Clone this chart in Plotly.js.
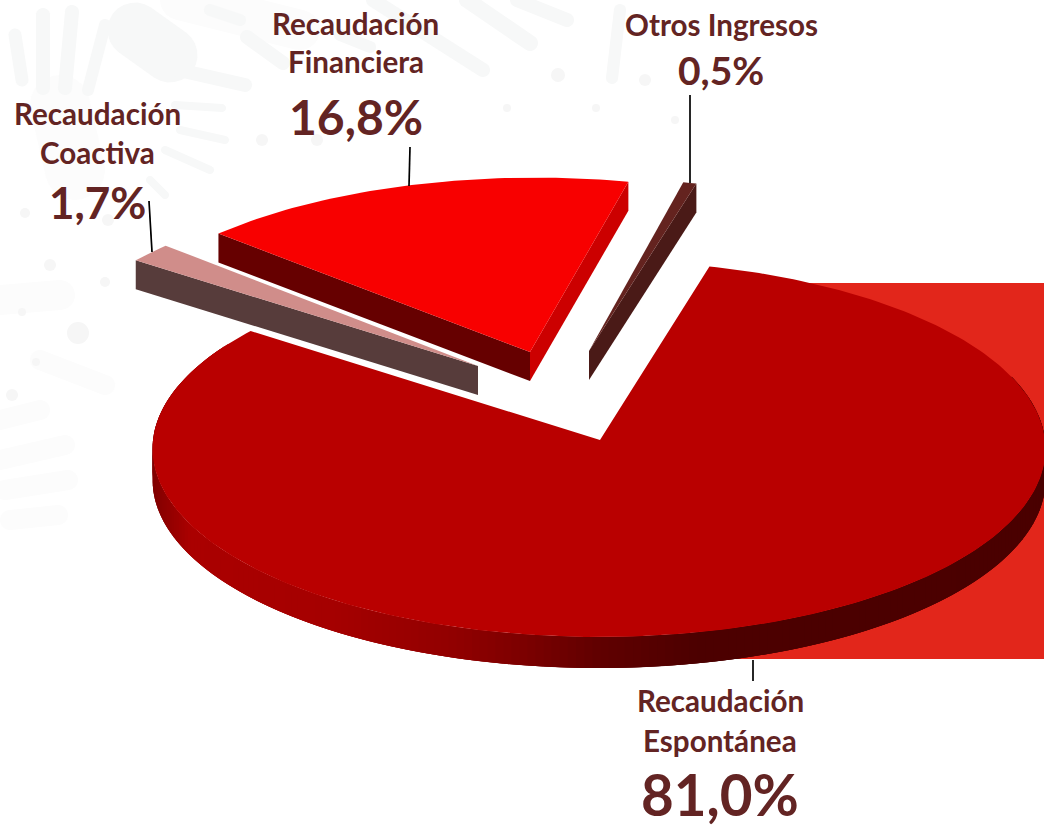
<!DOCTYPE html>
<html><head><meta charset="utf-8">
<script src="https://cdn.plot.ly/plotly-3.0.1.min.js"></script>
<style>html,body{margin:0;padding:0;background:#fff}#chart{width:1044px;height:828px}</style>
</head><body><div id="chart"></div>
<script>
// ---- data ----
const categories = ["Recaudación Espontánea", "Recaudación Coactiva", "Recaudación Financiera", "Otros Ingresos"];
const shares = [81.0, 1.7, 16.8, 0.5];
const labelLines = [["Recaudación", "Espontánea"], ["Recaudación", "Coactiva"], ["Recaudación", "Financiera"], ["Otros Ingresos"]];

// ---- style / placement ----
const FONT = "Lato, 'Open Sans', sans-serif";
const TXT = "#632423";
const startAngle = 14.5;
const proj = {A: 446, B: 187.8, k: 0.0466};
const depth = 29;
const place = [
  {apex:[600,440], origin:[599,440], sx:1, sy:1, rot:0.5, top:"#B90000"},
  {apex:[478,366], origin:[479.5,368], sx:.98, sy:1, rot:0, top:"#D08D8A", wall:"#573C3B", side:"start"},
  {apex:[530,352], origin:[535.5,353.5], sx:.99, sy:.98, rot:0, top:"#F80000", wall:"#660000", side:"start", wall2:"#CC0000"},
  {apex:[589,351], origin:[589.5,357.5], sx:1, sy:1, rot:0, top:"#64231F", wall:"#4A1A17", side:"end"}
];
const labelStyle = [
  {lines:[[720,700],[720,740]], pct:[720,794], pctSize:56.5},
  {lines:[[97,113],[97,152]], pct:[97,202], pctSize:44},
  {lines:[[355.5,23],[355.5,61]], pct:[356,116], pctSize:48},
  {lines:[[721,24]], pct:[721,70], pctSize:39}
];
const labelSize = 29.6;
const leaders = [[[753,660],[753,681]], [[149,201],[152,252]], [[410,147],[409,186]], [[690,95],[690,183]]];
const rimStops = [[152,[128,0,0]],[190,[170,0,0]],[330,[165,0,0]],[450,[146,0,0]],[530,[122,0,0]],[600,[96,0,0]],[700,[76,0,0]],[1044,[74,0,0]]];
const rimDepth = 31;

// circle-plane angle (deg clockwise from the back) -> picture position, with perspective
function pt(theta, o, sx, sy) {
  const t = theta * Math.PI / 180, u = Math.sin(t), v = -Math.cos(t), d = 1 - proj.k * v;
  return [o[0] + sx * proj.A * u / d, o[1] + sy * proj.B * v / d];
}
function arc(a0, a1, o, sx, sy) {
  const n = Math.max(2, Math.ceil(Math.abs(a1 - a0) / 1)), out = [];
  for (let i = 0; i <= n; i++) out.push(pt(a0 + (a1 - a0) * i / n, o, sx, sy));
  return out;
}
function poly(points, color) {
  const xs = points.map(p => p[0]).concat(points[0][0]);
  const ys = points.map(p => p[1]).concat(points[0][1]);
  return {type:"scatter", mode:"lines", x:xs, y:ys, fill:"toself", fillcolor:color,
          line:{width:0, color:color}, hoverinfo:"skip", showlegend:false};
}
function rimColor(x) {
  for (let i = 1; i < rimStops.length; i++) {
    if (x <= rimStops[i][0]) {
      const [x0,c0] = rimStops[i-1], [x1,c1] = rimStops[i], f = Math.max(0,(x-x0)/(x1-x0));
      return "rgb(" + c0.map((c,j)=>Math.round(c+(c1[j]-c)*f)).join(",") + ")";
    }
  }
  return "rgb(74,0,0)";
}

const total = shares.reduce((a,b)=>a+b,0);
let cursor = startAngle;
const spans = shares.map(s => { const a0 = cursor; cursor += s / total * 360; return [a0, cursor]; });

const traces = [];
// main slice rim, front side only; each band overlaps the next so no seams show
{
  const p = place[0], a0 = spans[0][0] + p.rot, a1 = spans[0][1] + p.rot;
  const pts = arc(a1 - 5, a0 + 55, p.origin, p.sx, p.sy);   // runs left to right along the front
  for (let i = 0; i < pts.length - 1; i++) {
    const a = pts[i], b = pts[Math.min(i + 3, pts.length - 1)], m = pts[i + 1];
    const seg = [a, m, b];
    const low = seg.slice().reverse().map(q => [q[0], q[1] + rimDepth]);
    traces.push(poly(seg.concat(low), rimColor((a[0] + m[0]) / 2)));
  }
  traces.push(poly([p.apex].concat(arc(a0, a1, p.origin, p.sx, p.sy)), p.top));
}
// exploded slices
[3, 2, 1].forEach(i => {
  const p = place[i], a0 = spans[i][0] + p.rot, a1 = spans[i][1] + p.rot, e = arc(a0, a1, p.origin, p.sx, p.sy);
  const first = e[0], last = e[e.length-1], ap = p.apex;
  const down = q => [q[0], q[1] + depth];
  if (p.side === "start") traces.push(poly([first, ap, down(ap), down(first)], p.wall));
  if (p.side === "end") traces.push(poly([last, ap, down(ap), down(last)], p.wall));
  if (p.wall2) traces.push(poly([last, ap, down(ap), down(last)], p.wall2));
  traces.push(poly([ap].concat(e), p.top));
});

// ---- annotations ----
const ann = [];
const note = (text, xy, size) => ann.push({text, x:xy[0], y:xy[1], xref:"x", yref:"y", showarrow:false,
   xanchor:"center", yanchor:"middle", font:{family:FONT, size, color:TXT}});
categories.forEach((c, i) => {
  labelLines[i].forEach((ln, j) => note("<b>"+ln+"</b>", labelStyle[i].lines[j], labelSize));
  note("<b>"+shares[i].toFixed(1).replace(".", ",")+"%</b>", labelStyle[i].pct, labelStyle[i].pctSize);
});

// ---- shapes: backdrop rectangle, faint watermark, leader lines ----
const capsule = (x1,y1,x2,y2,w) => {
  const a = Math.atan2(y2-y1,x2-x1), r = w/2, out = [];
  for (let i = 0; i <= 12; i++) { const t = a + Math.PI/2 - Math.PI*i/12; out.push([x2+r*Math.cos(t), y2+r*Math.sin(t)]); }
  for (let i = 0; i <= 12; i++) { const t = a - Math.PI/2 - Math.PI*i/12; out.push([x1+r*Math.cos(t), y1+r*Math.sin(t)]); }
  return "M" + out.map(p => p[0].toFixed(1)+","+p[1].toFixed(1)).join(" L") + " Z";
};
const wmStrong = [[15,35,22,80,13],[43,15,43,88,14],[72,12,65,88,14],[105,25,88,90,12],
  [135,30,170,55,55],[170,68,245,85,14],[175,105,222,108,8],[180,130,225,140,8],[165,150,210,170,8],[150,180,165,195,8],
  [247,37,283,63,14],[210,10,240,20,12],[340,35,370,47,12],[373,0,483,70,14],[467,0,530,43,16],[517,0,567,20,14],[620,10,612,78,12]];
const wmPale = [[60,105,75,170,60],[0,300,60,295,30],[40,360,105,385,20],[0,420,40,410,20],[0,460,65,445,20],[5,490,68,480,20],[10,520,58,515,20],[180,0,300,30,40]];
const dots = [[50,265,6],[105,282,5],[262,140,6],[317,140,6],[108,220,6],[25,213,5],[78,333,11],[22,312,4],[36,362,4],[12,395,6],[558,75,7],[507,108,4],[596,108,4],[645,80,6],[675,120,4]];
const shapes = [{type:"rect", xref:"x", yref:"y", x0:700, x1:1044, y0:283, y1:659, fillcolor:"#E2261B", line:{width:0}, layer:"below"}];
wmPale.forEach(c => shapes.push({type:"path", xref:"x", yref:"y", path:capsule(...c), fillcolor:"#fcfcfc", line:{width:0}, layer:"below"}));
wmStrong.forEach(c => shapes.push({type:"path", xref:"x", yref:"y", path:capsule(...c), fillcolor:"#f7f8f8", line:{width:0}, layer:"below"}));
dots.forEach(d => shapes.push({type:"circle", xref:"x", yref:"y", x0:d[0]-d[2], x1:d[0]+d[2], y0:d[1]-d[2], y1:d[1]+d[2], fillcolor:"#f6f6f6", line:{width:0}, layer:"below"}));
leaders.forEach(l => shapes.push({type:"line", xref:"x", yref:"y", x0:l[0][0], y0:l[0][1], x1:l[1][0], y1:l[1][1], line:{color:"#000", width:1.7}, layer:"above"}));

Plotly.newPlot("chart", traces, {
  width:1044, height:828, margin:{l:0,r:0,t:0,b:0}, paper_bgcolor:"#fff", plot_bgcolor:"rgba(0,0,0,0)",
  xaxis:{range:[0,1044], visible:false, fixedrange:true},
  yaxis:{range:[828,0], visible:false, fixedrange:true},
  showlegend:false, shapes, annotations:ann, hovermode:false
}, {displayModeBar:false, staticPlot:true});
</script></body></html>
